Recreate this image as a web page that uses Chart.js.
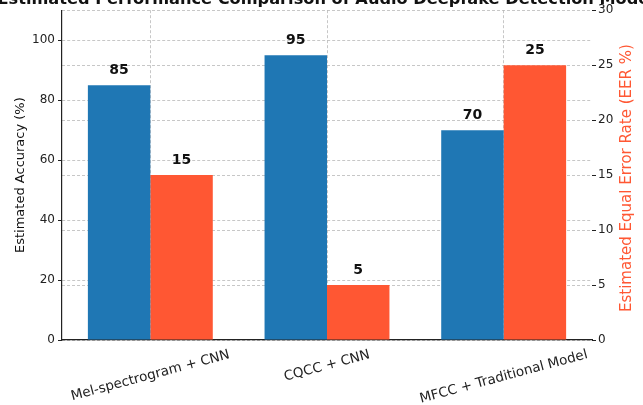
<!DOCTYPE html>
<html>
<head>
<meta charset="utf-8">
<script src="https://cdn.jsdelivr.net/npm/chart.js@4.4.1/dist/chart.umd.min.js"></script>
<style>
  html, body { margin: 0; padding: 0; background: #ffffff; }
  canvas { display: block; }
</style>
</head>
<body>
<canvas id="chart" width="643" height="405"></canvas>
<script>
// Detection approaches compared
const categories = ['Mel-spectrogram + CNN', 'CQCC + CNN', 'MFCC + Traditional Model'];
// Estimated accuracy (%), left axis
const accuracy = [85, 95, 70];
// Estimated equal error rate (EER %), right axis
const eer = [15, 5, 25];

const chartTitle = 'Estimated Performance Comparison of Audio Deepfake Detection Models';
const leftAxisTitle = 'Estimated Accuracy (%)';
const rightAxisTitle = 'Estimated Equal Error Rate (EER %)';

const BLUE = '#1f77b4';
const RED = '#ff5733';
const FONT = "'DejaVu Sans', sans-serif";
const GRID = 'rgba(180,180,180,0.75)';

// Title, rotated category labels, right-hand axis title and value labels
const decorations = {
  id: 'decorations',
  afterDraw(chart) {
    const ctx = chart.ctx;
    const area = chart.chartArea;

    ctx.save();
    ctx.fillStyle = '#111';
    ctx.font = 'bold 16.2px ' + FONT;
    ctx.textAlign = 'center';
    ctx.textBaseline = 'middle';
    ctx.fillText(chartTitle, (area.left + area.right) / 2 + 4, 0);
    ctx.restore();

    // category labels, rotated 15 degrees and centred under each group
    const xs = chart.scales.x;
    ctx.save();
    const fs = 13.5;
    ctx.font = fs + 'px ' + FONT;
    ctx.fillStyle = '#222';
    const ang = 15 * Math.PI / 180;
    categories.forEach((label, i) => {
      const w = ctx.measureText(label).width;
      const boxH = w * Math.sin(ang) + fs * Math.cos(ang);
      const cx = xs.getPixelForValue(i);
      const cy = area.bottom + 8 + boxH / 2;
      ctx.save();
      ctx.translate(cx, cy);
      ctx.rotate(-ang);
      ctx.textAlign = 'center';
      ctx.textBaseline = 'middle';
      ctx.fillText(label, 0, 0);
      ctx.restore();
    });
    ctx.restore();

    // right axis title, reading bottom to top
    ctx.save();
    ctx.font = '15px ' + FONT;
    ctx.fillStyle = RED;
    ctx.translate(627, (area.top + area.bottom) / 2 + 3);
    ctx.rotate(-Math.PI / 2);
    ctx.textAlign = 'center';
    ctx.textBaseline = 'middle';
    ctx.fillText(rightAxisTitle, 0, 0);
    ctx.restore();

    // value labels above each bar
    ctx.save();
    ctx.font = 'bold 14px ' + FONT;
    ctx.fillStyle = '#111';
    ctx.textAlign = 'center';
    ctx.textBaseline = 'middle';
    chart.data.datasets.forEach((ds, di) => {
      const meta = chart.getDatasetMeta(di);
      meta.data.forEach((bar, i) => {
        ctx.fillText(String(ds.data[i]), bar.x, bar.y - 15);
      });
    });
    ctx.restore();
  }
};

new Chart(document.getElementById('chart'), {
  type: 'bar',
  data: {
    labels: categories,
    datasets: [
      {
        label: 'Accuracy',
        data: accuracy,
        backgroundColor: BLUE,
        yAxisID: 'y',
        categoryPercentage: 0.707,
        barPercentage: 1.0
      },
      {
        label: 'EER',
        data: eer,
        backgroundColor: RED,
        yAxisID: 'y1',
        categoryPercentage: 0.707,
        barPercentage: 1.0
      }
    ]
  },
  options: {
    responsive: false,
    devicePixelRatio: 1,
    animation: false,
    layout: { padding: { top: 8, left: 0, right: 0, bottom: 0 } },
    plugins: {
      legend: { display: false },
      tooltip: { enabled: false },
      title: { display: false }
    },
    scales: {
      x: {
        offset: true,
        ticks: { display: false },
        grid: {
          display: true,
          offset: false,
          color: GRID,
          lineWidth: 1,
          drawTicks: false
        },
        border: { display: true, color: '#222', width: 1.2, dash: [3, 2] },
        afterFit(s) { s.height = 65; }
      },
      y: {
        position: 'left',
        min: 0,
        max: 110,
        ticks: {
          stepSize: 20,
          color: '#222',
          padding: 3,
          font: { family: FONT, size: 12 }
        },
        afterBuildTicks(s) { s.ticks = s.ticks.filter(t => t.value <= 100); },
        grid: {
          color: GRID,
          lineWidth: 1,
          tickColor: '#222',
          tickLength: 4,
          tickBorderDash: []
        },
        border: { display: true, color: '#222', width: 1.2, dash: [3, 2] },
        title: {
          display: true,
          text: leftAxisTitle,
          color: '#111',
          font: { family: FONT, size: 13 },
          padding: { top: 13, bottom: 0 }
        },
        afterFit(s) { s.width = 62; }
      },
      y1: {
        position: 'right',
        min: 0,
        max: 30,
        ticks: {
          stepSize: 5,
          color: '#222',
          padding: 2,
          font: { family: FONT, size: 12 }
        },
        grid: {
          color: GRID,
          lineWidth: 1,
          tickColor: '#222',
          tickLength: 4,
          tickBorderDash: []
        },
        border: { display: false, dash: [3, 2] },
        afterFit(s) { s.width = 51; }
      }
    }
  },
  plugins: [decorations]
});
</script>
</body>
</html>
